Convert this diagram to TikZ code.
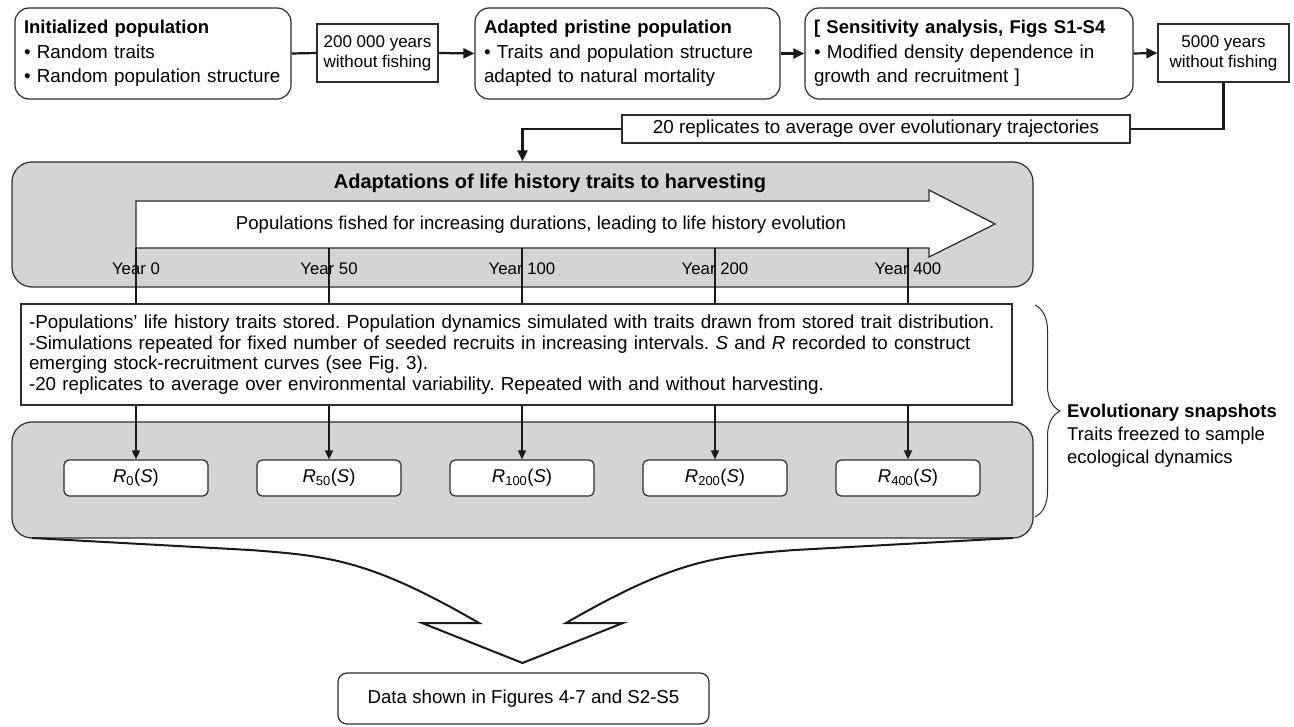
\documentclass[tikz,border=0pt]{standalone}
\usepackage{fontspec}
\setmainfont{Liberation Sans}
\usetikzlibrary{arrows.meta,decorations.pathreplacing,calc}
\definecolor{panelgray}{RGB}{212,212,212}
\definecolor{edge}{RGB}{45,45,45}
\definecolor{ink}{RGB}{25,25,25}
\frenchspacing
\tikzset{
  rbox/.style={draw=edge, line width=1.2pt, rounded corners=14pt, fill=white, inner xsep=9pt, inner ysep=0pt, align=left, font=\fontsize{18.8}{24.5}\selectfont},
  sbox/.style={draw=edge, line width=1.2pt, fill=white, align=center, inner sep=0pt, font=\fontsize{17}{20}\selectfont},
  panel/.style={draw=edge, line width=1.2pt, rounded corners=20pt, fill=panelgray, inner sep=0pt, minimum width=1021pt},
  conn/.style={draw=ink, line width=2.2pt},
  tip/.style={-{Triangle[length=11pt,width=10pt]}},
  smalltip/.style={-{Triangle[length=9pt,width=8pt]}},
  tickline/.style={draw=ink, line width=2pt},
  rsbox/.style={draw=edge, line width=1.2pt, rounded corners=5pt, fill=white, minimum width=144pt, minimum height=36pt, inner sep=0pt, font=\fontsize{18.5}{20}\selectfont},
  lbl/.style={inner sep=0pt, font=\fontsize{18.6}{20}\selectfont},
  yearlbl/.style={inner sep=0pt, font=\fontsize{16.8}{20}\selectfont},
}
\begin{document}
\begin{tikzpicture}[x=1pt,y=-1pt]
\useasboundingbox (0,0) rectangle (1294,727);

% ---- top row ----
\node[rbox, text width=258pt, minimum height=91pt] (b1) at (153,53.5)
  {\textbf{\fontsize{18.5}{24.5}\selectfont Initialized population}\\• Random traits\\• Random population structure};
\node[sbox, minimum width=121pt, minimum height=58pt] (b2) at (377.5,53)
  {200 000 years\\without fishing};
\node[rbox, text width=287pt, minimum height=91pt] (b3) at (627.5,53.5)
  {\textbf{\fontsize{18.5}{24.5}\selectfont Adapted pristine population}\\• Traits and population structure\\adapted to natural mortality};
\node[rbox, text width=310pt, minimum height=91pt] (b4) at (969,53.5)
  {\textbf{\fontsize{18.5}{24.5}\selectfont [ Sensitivity analysis, Figs S1-S4}\\• Modified density dependence in\\growth and recruitment ]};
\node[sbox, minimum width=131pt, minimum height=58pt] (b5) at (1223.5,53)
  {5000 years\\without fishing};
\node[sbox, minimum width=508pt, minimum height=28pt, font=\fontsize{18.8}{20}\selectfont] (rep) at (876,129)
  {20 replicates to average over evolutionary trajectories};

\draw[conn] (b1.east) -- (b2.west);
\draw[conn,tip] (b2.east) -- (b3.west);
\draw[conn,tip] (b3.east) -- (b4.west);
\draw[conn,tip] (b4.east) -- (b5.west);
\draw[conn] (b5.south) |- (rep.east);

% ---- panel 1 ----
\node[panel, minimum height=125pt] (p1) at (522.5,224.5) {};
\draw[conn,tip] (rep.west) -| (p1.north);
\node[inner sep=0pt, font=\bfseries\fontsize{20}{22}\selectfont] (p1title) at (550,183)
  {Adaptations of life history traits to harvesting};
\draw[draw=edge, line width=1.3pt, fill=white, line join=miter]
  (136,201) -- (929,201) -- (929,190) -- (995,224) -- (929,257) -- (929,248) -- (136,248) -- cycle;
\node[lbl] (flow) at (541,225)
  {Populations fished for increasing durations, leading to life history evolution};

% ---- text box ----
\node[draw=edge, line width=1.2pt, fill=white, minimum width=991pt, minimum height=101pt,
      text width=975pt, inner xsep=8pt, inner ysep=0pt, align=left,
      font=\fontsize{18.8}{20.5}\selectfont] (tb) at (516.5,354.5)
  {-Populations’ life history traits stored. Population dynamics simulated with traits drawn from stored trait distribution.\\
   -Simulations repeated for fixed number of seeded recruits in increasing intervals. \textit{S} and \textit{R} recorded to construct\\
   emerging stock-recruitment curves (see Fig. 3).\\
   -20 replicates to average over environmental variability. Repeated with and without harvesting.};

% ---- panel 2 ----
\node[panel, minimum height=116pt] (p2) at (522.5,480) {};

\foreach \i/\yr in {0/0,1/50,2/100,3/200,4/400}{
  \coordinate (t\i) at ({136+193*\i},248);
  \draw[tickline] (t\i) -- (t\i |- tb.north);
  \node[yearlbl] (y\i) at ({136+193*\i},269) {Year \yr};
  \node[rsbox] (r\i) at ({136+193*\i},478) {\textit{R}\textsubscript{\yr}(\textit{S})};
  \draw[tickline, line width=1.6pt, smalltip] (t\i |- tb.south) -- (r\i.north);
}

% ---- brace ----
\draw[decorate, decoration={brace, amplitude=25pt}, draw=edge, line width=1pt] (1035,305) -- (1035,517);
\node[anchor=north west, inner sep=0pt, align=left, font=\fontsize{18.5}{23}\selectfont] (evo) at (1067,404)
  {\textbf{Evolutionary snapshots}\\Traits freezed to sample\\ecological dynamics};

% ---- converging arrow ----
\draw[draw=ink, line width=2pt, line join=miter]
  (32,538) -- (250,550) .. controls (330,556) and (370,560) .. (479,623)
  -- (422,623) -- (522.5,663) -- (623,623) -- (566,623)
  .. controls (675,560) and (715,556) .. (795,550) -- (1013,538);

\node[draw=edge, line width=1.2pt, rounded corners=9pt, minimum width=371pt, minimum height=51pt,
      inner sep=0pt, font=\fontsize{18.7}{20}\selectfont] (data) at (523.5,698.5)
  {Data shown in Figures 4-7 and S2-S5};
\end{tikzpicture}
\end{document}
